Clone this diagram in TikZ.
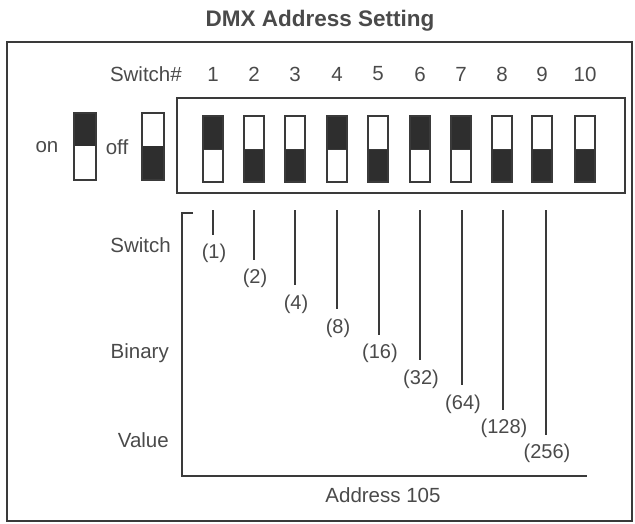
\documentclass[tikz,border=0pt]{standalone}
\usepackage{fontspec}
\setmainfont{Liberation Sans}
\definecolor{ink}{HTML}{3A3A3A}
\definecolor{txt}{HTML}{4A4A4A}
\definecolor{dark}{HTML}{2E2E2E}
\begin{document}
\begin{tikzpicture}[x=1pt,y=-1pt,
  lbl/.style={font=\fontsize{20.5}{22}\selectfont, text=txt, inner sep=0pt},
  val/.style={font=\fontsize{20}{22}\selectfont, text=txt, inner sep=0pt},
  frame/.style={draw=ink, line width=1.8pt},
  tick/.style={draw=ink, line width=1.4pt},
  sw/.style={draw=ink, line width=1.3pt},
  dk/.style={fill=dark}]
\useasboundingbox (0,0) rectangle (635,523);
\node[font=\bfseries\fontsize{22.5}{24}\selectfont, text=txt] (title) at (320,21) {DMX Address Setting};
\draw[frame] (7,42) rectangle (632,521);
\node[lbl, anchor=east] (swh) at (182,74) {Switch\#};
% switch box
\draw[frame, line width=1.6pt] (177,98) rectangle (625,193);
% legend switches
\node[lbl] (on) at (47,147) {on};
\node[lbl] (off) at (117,147) {off};
\fill[dark] (74,113) rectangle (96,146);
\draw[sw] (74,113) rectangle (96,180);
\fill[dark] (142,146) rectangle (164,180);
\draw[sw] (142,113) rectangle (164,180);
% switches
\foreach \i/\x/\s in {1/213/1,2/254/0,3/295/0,4/337/1,5/378/0,6/420/1,7/461/1,8/502/0,9/542/0,10/585/0}{
  \node[lbl] (n\i) at (\x,74) {\i};
  \ifnum\s=1
    \fill[dark] (\x-10,116) rectangle (\x+10,149);
  \else
    \fill[dark] (\x-10,149) rectangle (\x+10,182);
  \fi
  \draw[sw] (\x-10,116) rectangle (\x+10,182);
  \draw[ink, line width=0.8pt] (\x-10,149) -- (\x+10,149);
}
% bracket
\draw[frame, line width=1.6pt] (193,213) -- (182,213) -- (182,476) -- (587,476);
\node[lbl] (addr) at (383,495) {Address 105};
\node[lbl, anchor=east] (s1) at (171,245) {Switch};
\node[lbl, anchor=east] (s2) at (169,353) {Binary};
\node[lbl, anchor=east] (s3) at (169,440) {Value};
% value lines
\foreach \x/\yb/\v/\yl in {213/235/1/253, 254/260/2/278, 295/285/4/304, 337/309/8/328, 379/335/16/353, 420/360/32/379, 462/385/64/404, 503/410/128/428, 546/435/256/453}{
  \coordinate (t\v) at (\x,210);
  \coordinate (b\v) at (\x,\yb);
  \draw[tick] (t\v) -- (b\v);
  \node[val] (v\v) at (\x+1,\yl) {(\v)};
}
\end{tikzpicture}
\end{document}
